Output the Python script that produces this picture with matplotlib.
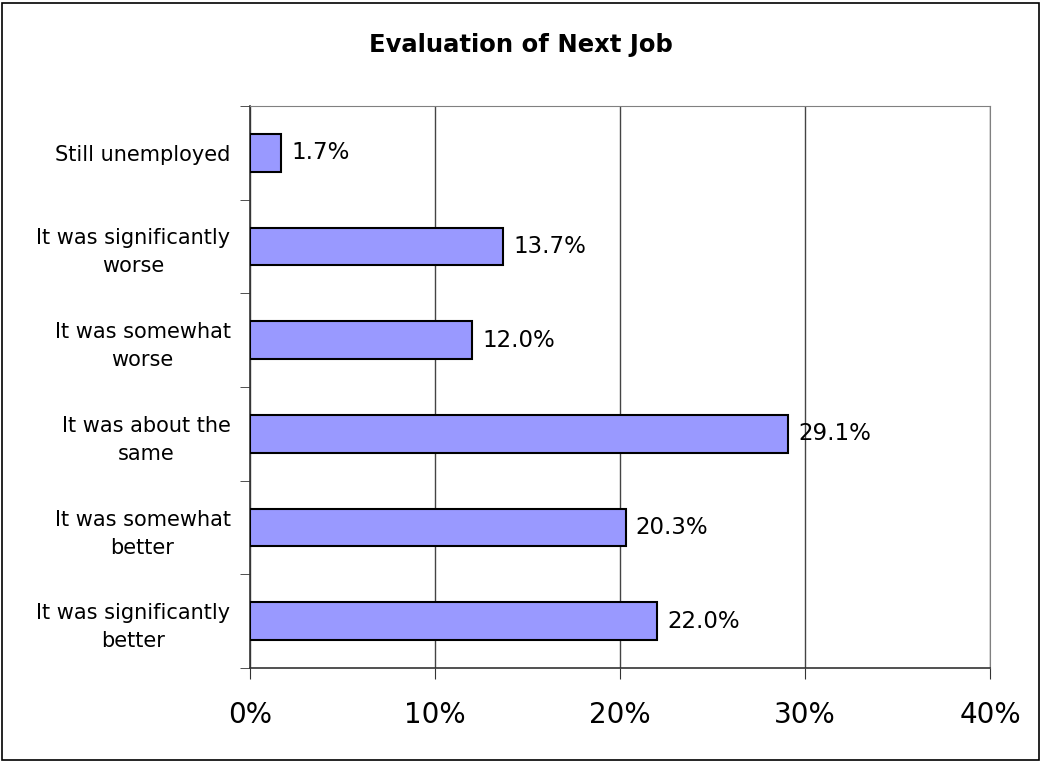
import matplotlib.pyplot as plt
from matplotlib.patches import Rectangle
from matplotlib.ticker import FixedLocator, PercentFormatter

categories = [
    "It was significantly\nbetter",
    "It was somewhat\nbetter",
    "It was about the\nsame",
    "It was somewhat\nworse",
    "It was significantly\nworse",
    "Still unemployed",
]
shares = [22.0, 20.3, 29.1, 12.0, 13.7, 1.7]

plt.rcParams['font.family'] = ['DejaVu Sans']

fig = plt.figure(figsize=(10.41, 7.61), dpi=100)
ax = fig.add_axes([250 / 1041, 1 - 668 / 761, 740 / 1041, 562 / 761])

pos = range(len(categories))
ax.barh(pos, shares, height=0.4, color='#9999ff', edgecolor='black', linewidth=1.5, zorder=3)

for y, v in zip(pos, shares):
    ax.text(v + 0.55, y, f'{v:.1f}%', va='center', ha='left', fontsize=16.5, zorder=4)

ax.set_xlim(0, 40)
ax.set_ylim(-0.5, len(categories) - 0.5)
ax.set_xticks([0, 10, 20, 30, 40])
ax.xaxis.set_major_formatter(PercentFormatter(decimals=0))
ax.tick_params(axis='x', labelsize=20, length=8, pad=16, color='#333333')

# category labels sit between the boundary ticks
ax.set_yticks(list(pos))
ax.set_yticklabels(categories, fontsize=15, multialignment='center', linespacing=1.5)
ax.tick_params(axis='y', which='major', length=0, pad=14)
ax.yaxis.set_minor_locator(FixedLocator([i - 0.5 for i in range(len(categories) + 1)]))
ax.tick_params(axis='y', which='minor', length=7, color='#333333')

ax.grid(axis='x', color='#444444', linewidth=1, zorder=0)
for side in ['top', 'right']:
    ax.spines[side].set_color('#808080')
for side in ['left', 'bottom']:
    ax.spines[side].set_color('#333333')
    ax.spines[side].set_linewidth(1.2)

fig.text(0.5, 1 - 45 / 761, 'Evaluation of Next Job', ha='center', va='center',
         fontsize=17.5, fontweight='bold')

fig.patches.append(Rectangle((2 / 1041, 0.001), 1 - 4 / 1041, 1 - 4 / 761,
                             transform=fig.transFigure, fill=False,
                             edgecolor='black', linewidth=1.2))

fig.savefig('out.png', dpi=100)
